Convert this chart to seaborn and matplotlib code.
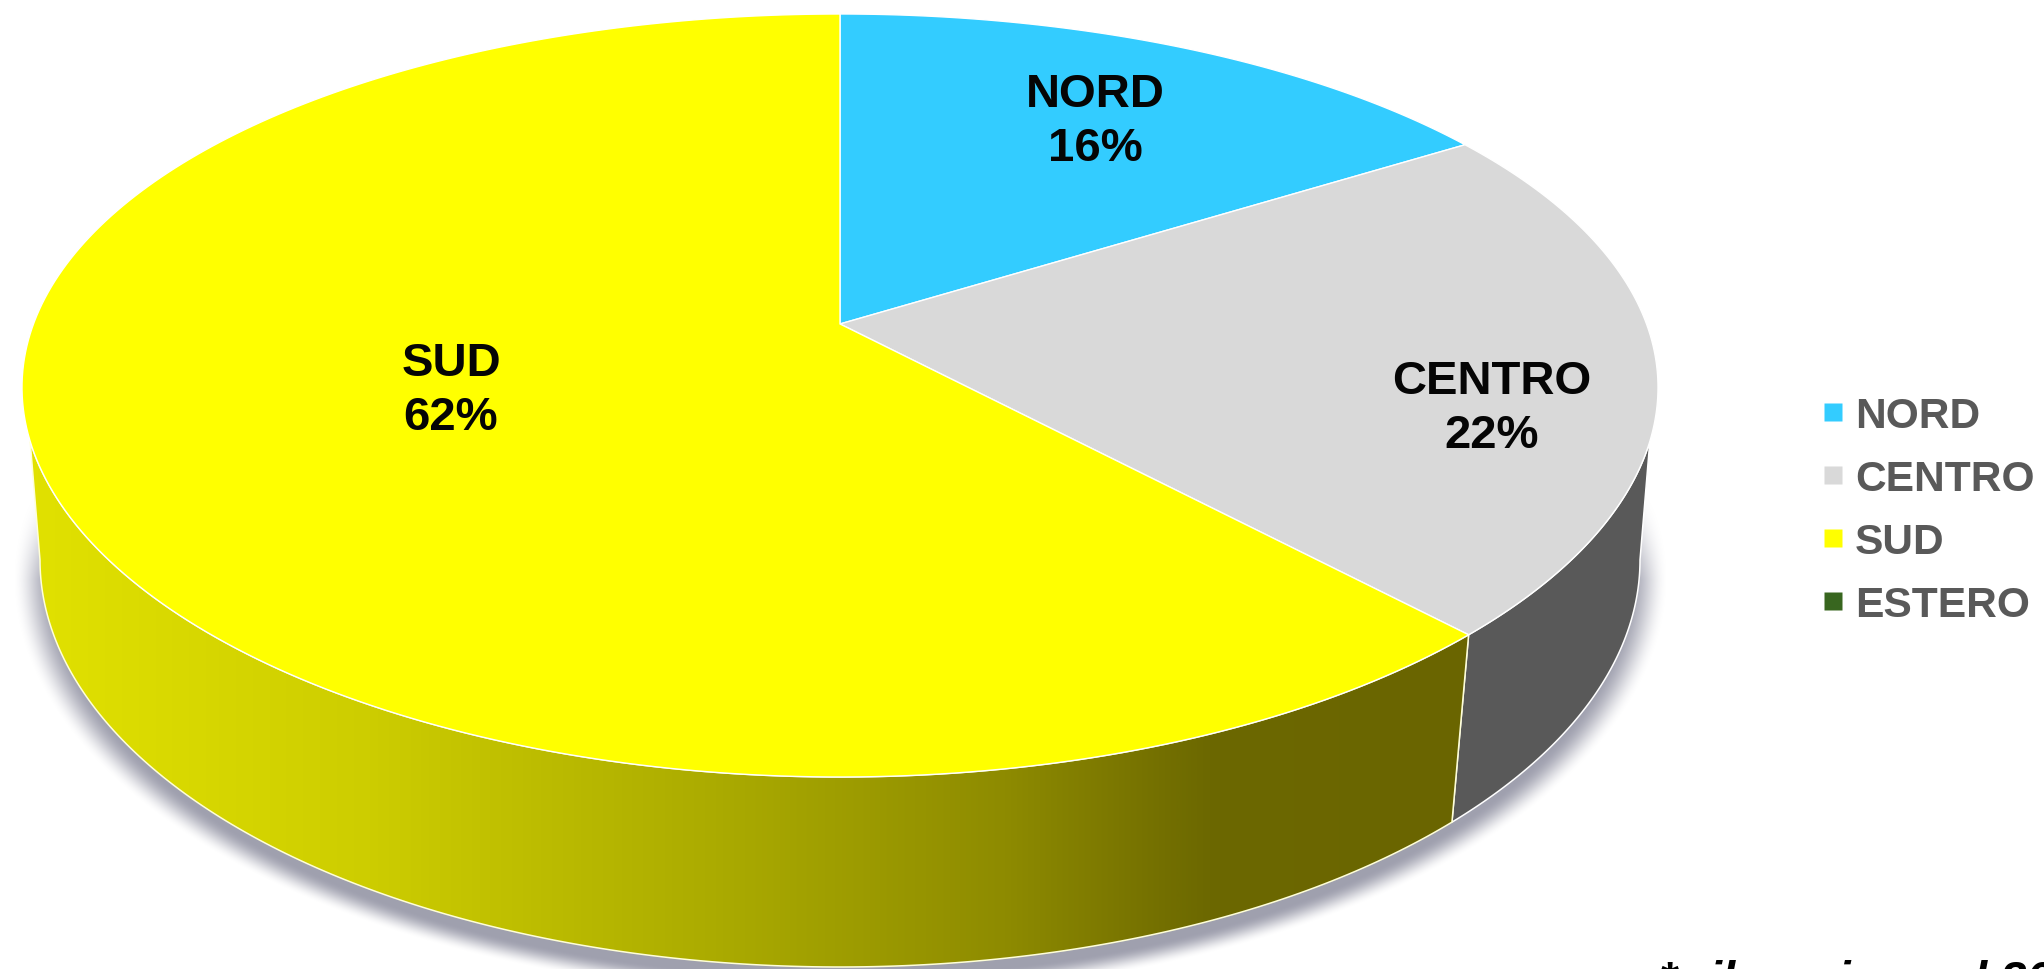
import numpy as np
import matplotlib
matplotlib.use("Agg")
import matplotlib.pyplot as plt
from matplotlib.lines import Line2D
from matplotlib.colors import LinearSegmentedColormap, to_rgb
from matplotlib.patches import Polygon
import seaborn as sns

categories = ["NORD", "CENTRO", "SUD", "ESTERO"]
values = [16, 22, 62, 0]
top_colors = ["#33CCFF", "#D9D9D9", "#FFFF00", "#38661F"]
side_grey = "#595959"
footnote = "* rilevazione al 20"

sns.set_theme(style="white")
plt.rcParams["font.family"] = ["Liberation Sans", "DejaVu Sans"]
palette = sns.color_palette(top_colors)

fig = plt.figure(figsize=(20.44, 9.70), dpi=100, facecolor="white")
ax = fig.add_axes([0, 0, 1, 1])
ax.set_axis_off()


def make_face(cx, y_top, y_bottom, half_width, k, kx):
    ratio = (1 - k) / (1 + k)
    span = y_bottom - y_top
    up = span * ratio / (1 + ratio)
    y0 = y_top + up
    a = up * (1 + k)
    b = half_width * np.sqrt(1 - kx ** 2)

    def rim(theta):
        v, u = np.cos(theta), np.sin(theta)
        return cx + b * u / (1 + kx * v), y0 - a * v / (1 + k * v)

    return rim, (cx, y0)


top_rim, apex = make_face(840, 15, 778, 818, 0.1875, 0.167)
low_rim, _ = make_face(840, 154, 968, 800, 0.16, 0.16)

edges = 2 * np.pi * np.cumsum([0] + values) / sum(values)
top_right, top_left = np.radians(107.5), np.radians(252.5)
low_right, low_left = np.radians(99.2), np.radians(260.8)

# soft shadow under the disc
yy, xx = np.mgrid[0:970, 0:2044]
r = np.sqrt(((xx - 840) / 802) ** 2 + ((yy - 578) / 407) ** 2)
fade = np.clip((1.032 - r) / 0.052, 0, 1)
fade = fade * fade * (3 - 2 * fade)
fade *= np.clip((yy - 490) / 90, 0, 1)
shadow = np.zeros((970, 2044, 4))
shadow[..., :3] = to_rgb("#8E8FA0")
shadow[..., 3] = fade * 0.85
ax.imshow(shadow, extent=(0, 2044, 970, 0), aspect="auto", zorder=1, interpolation="bilinear")


def side_polygon(t0, t1, b0, b1):
    xt, yt = top_rim(np.linspace(t0, t1, 200))
    xb, yb = low_rim(np.linspace(b1, b0, 200))
    return np.column_stack([np.r_[xt, xb], np.r_[yt, yb]])


# dark side of the centre slice
ax.add_patch(Polygon(side_polygon(top_right, edges[2], low_right, edges[2]), closed=True,
                     facecolor=side_grey, edgecolor="white", linewidth=1.1, zorder=2))

# shaded side of the south slice
south_side = side_polygon(edges[2], top_left, edges[2], low_left)
shade = LinearSegmentedColormap.from_list(
    "shade",
    [(0.0, "#E2E200"), (0.24, "#CDCD00"), (0.50, "#A8A800"), (0.68, "#8E8B00"), (0.82, "#6C6800"), (1.0, "#6A6500")],
)
grad = np.linspace(0, 1, 512)[None, :]
im = ax.imshow(grad, cmap=shade, extent=(20, 1470, 970, 400), aspect="auto", zorder=2)
outline = Polygon(south_side, closed=True, facecolor="none", edgecolor="#FFFFD8", linewidth=1.1, zorder=3)
ax.add_patch(outline)
im.set_clip_path(outline)

# top face, one wedge per non-empty value
for i, name in enumerate(categories):
    if values[i] == 0:
        continue
    th = np.linspace(edges[i], edges[i + 1], 240)
    xr, yr = top_rim(th)
    pts = np.column_stack([np.r_[apex[0], xr], np.r_[apex[1], yr]])
    ax.add_patch(Polygon(pts, closed=True, facecolor=palette[i], edgecolor="white",
                         linewidth=1.0, zorder=4))

label_pos = {"NORD": (1095, 122), "CENTRO": (1492, 409), "SUD": (451, 391)}
for name, val in zip(categories, values):
    if val == 0:
        continue
    lx, ly = label_pos[name]
    ax.text(lx, ly, f"{name}\n{val}%", ha="center", va="center", fontsize=34, fontweight="bold",
            color="#050505", linespacing=1.28, zorder=5)

handles = [Line2D([], [], linestyle="none", marker="s", markersize=12.4, markerfacecolor=c,
                  markeredgecolor="none", label=n) for n, c in zip(categories, palette)]
leg = ax.legend(handles=handles, loc="upper left", bbox_to_anchor=(1821 / 2044, 1 - 397 / 970),
                frameon=False, fontsize=30.6, handlelength=0.55, handletextpad=0.25,
                labelspacing=0.54, borderpad=0, borderaxespad=0, labelcolor="#595959")
for t in leg.get_texts():
    t.set_fontweight("bold")

ax.text(1659, 994, footnote, ha="left", va="baseline", fontsize=34, fontweight="bold",
        fontstyle="italic", color="black", zorder=5, clip_on=False)

ax.set_xlim(0, 2044)
ax.set_ylim(970, 0)
fig.savefig("out.png", dpi=100, facecolor="white")
